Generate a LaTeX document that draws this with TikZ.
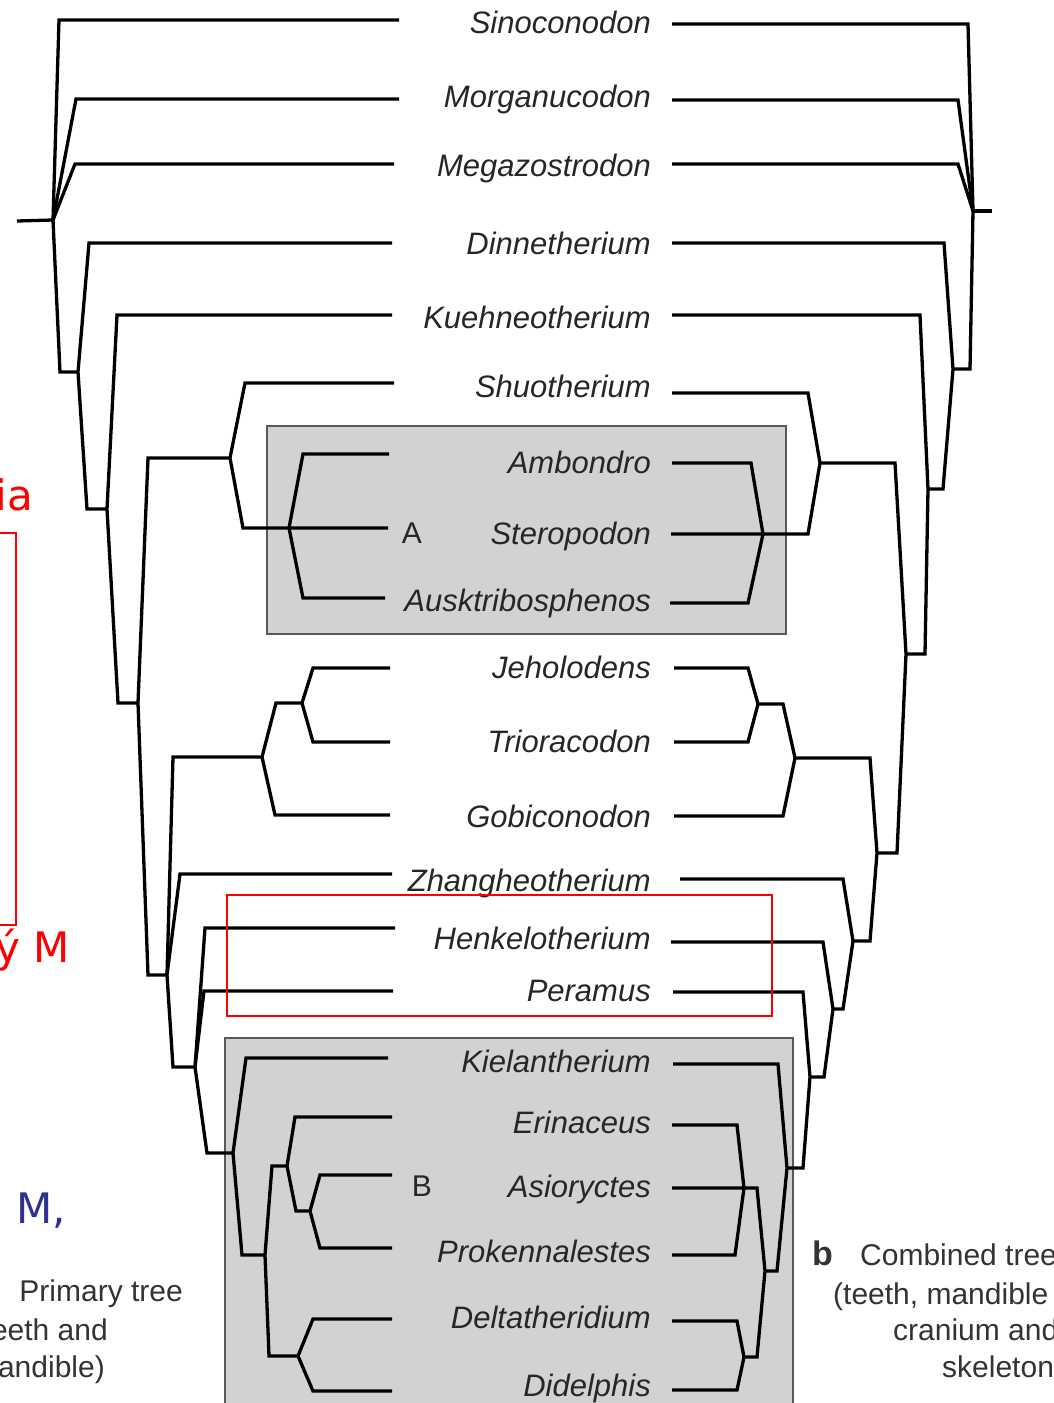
\documentclass[tikz,border=0pt]{standalone}
\usepackage{fontspec}
\setmainfont{Liberation Sans}
\newfontfamily\notefont{DejaVu Sans}
\usetikzlibrary{positioning}
\definecolor{noteblue}{RGB}{46,49,146}

\begin{document}
\begin{tikzpicture}[x=1pt, y=-1pt,
  branch/.style={line width=3.3pt},
  taxon/.style={font=\itshape\fontsize{31}{31}\selectfont, text=black!85, anchor=base east, inner sep=0pt},
  clade/.style={font=\fontsize{30}{30}\selectfont, text=black!85, inner sep=0pt},
  shade/.style={fill=gray!35, draw=black!65, line width=2pt},
  caption/.style={font=\fontsize{30}{30}\selectfont, text=black!80, inner sep=0pt},
  remark/.style={font=\notefont\fontsize{42}{42}\selectfont, inner sep=0pt}]

  \useasboundingbox (0,0) rectangle (1054,1403);

  % shaded clades
  \draw[shade] (267,426) rectangle (786,634);
  \draw[shade] (225,1038) rectangle (793,1420);

  % taxa: name / label y / left y / left end / right y / right start
  \foreach \name/\y/\ly/\lx/\ry/\rx in {
      Sinoconodon/22/20/399/24/672, Morganucodon/96/99/399/100/672,
      Megazostrodon/165/164/394/164/672, Dinnetherium/243/243/392/243/672,
      Kuehneotherium/317/315/392/315/672, Shuotherium/386/383/394/393/672,
      Ambondro/462/454/389/463/672, Steropodon/533/528/388/534/671,
      Ausktribosphenos/600/598/385/603/670, Jeholodens/667/668/390/668/674,
      Trioracodon/741/742/390/742/674, Gobiconodon/816/815/390/816/674,
      Zhangheotherium/880/874/392/879/680, Henkelotherium/938/928/395/942/671,
      Peramus/990/991/393/992/673, Kielantherium/1061/1058/388/1064/673,
      Erinaceus/1122/1117/392/1125/672, Asioryctes/1186/1175/392/1188/672,
      Prokennalestes/1251/1248/392/1255/672, Deltatheridium/1317/1319/392/1321/672,
      Didelphis/1385/1391/392/1390/672} {
    \node[taxon] (\name) at (651,\y+11) {\name};
    \coordinate (\name-l) at (\lx,\ly);
    \coordinate (\name-r) at (\rx,\ry);
  }

  \node[clade] (A) at (412,533) {A};
  \node[clade] (B) at (422,1186) {B};

  % primary tree (left)
  \coordinate (Lstub) at (17,221);
  \coordinate (L0) at (53,220);
  \coordinate (L1) at (78,372);
  \coordinate (L2) at (107,509);
  \coordinate (L3) at (138,703);
  \coordinate (L4) at (230,458);
  \coordinate (LA) at (289,528);
  \coordinate (L5) at (167,975);
  \coordinate (L6) at (262,757);
  \coordinate (L7) at (302,703);
  \coordinate (L8) at (195,1067);
  \coordinate (L9) at (233,1153);
  \coordinate (L10) at (265,1255);
  \coordinate (LB) at (287,1166);
  \coordinate (L11) at (310,1211);
  \coordinate (L12) at (298,1356);

  \draw[branch] (Lstub) -- (L0);
  \draw[branch] (Sinoconodon-l) -- (59,20) -- (L0);
  \draw[branch] (Morganucodon-l) -- (76,99) -- (L0);
  \draw[branch] (Megazostrodon-l) -- (75,164) -- (L0);
  \draw[branch] (L0) -- (60,372) -- (L1);
  \draw[branch] (Dinnetherium-l) -- (89,243) -- (L1) -- (87,509) -- (L2);
  \draw[branch] (Kuehneotherium-l) -- (117,315) -- (L2) -- (118,703) -- (L3);
  \draw[branch] (L4) -- (148,458) -- (L3) -- (148,975) -- (L5);
  \draw[branch] (Shuotherium-l) -- (245,383) -- (L4) -- (243,528) -- (Steropodon-l);
  \draw[branch] (Ambondro-l) -- (303,454) -- (LA) -- (303,598) -- (Ausktribosphenos-l);
  \draw[branch] (L6) -- (173,757) -- (L5) -- (173,1067) -- (L8);
  \draw[branch] (Zhangheotherium-l) -- (180,874) -- (L5);
  \draw[branch] (L7) -- (276,703) -- (L6) -- (275,815) -- (Gobiconodon-l);
  \draw[branch] (Jeholodens-l) -- (313,668) -- (L7) -- (313,742) -- (Trioracodon-l);
  \draw[branch] (Henkelotherium-l) -- (205,928) -- (L8) -- (207,1153) -- (L9);
  \draw[branch] (Peramus-l) -- (204,991) -- (L8);
  \draw[branch] (Kielantherium-l) -- (246,1058) -- (L9) -- (242,1255) -- (L10);
  \draw[branch] (LB) -- (272,1166) -- (L10) -- (269,1356) -- (L12);
  \draw[branch] (Erinaceus-l) -- (295,1117) -- (LB) -- (296,1211) -- (L11);
  \draw[branch] (Asioryctes-l) -- (320,1175) -- (L11) -- (320,1248) -- (Prokennalestes-l);
  \draw[branch] (Deltatheridium-l) -- (313,1319) -- (L12) -- (313,1391) -- (Didelphis-l);

  % combined tree (right)
  \coordinate (R0) at (973,211);
  \coordinate (Rstub) at (992,211);
  \coordinate (R1) at (953,369);
  \coordinate (R2) at (928,489);
  \coordinate (R3) at (906,654);
  \coordinate (R4) at (820,463);
  \coordinate (RA) at (763,534);
  \coordinate (R5) at (877,853);
  \coordinate (R6) at (795,758);
  \coordinate (R7) at (758,704);
  \coordinate (R8) at (853,941);
  \coordinate (R9) at (833,1009);
  \coordinate (R10) at (810,1077);
  \coordinate (R11) at (787,1168);
  \coordinate (R12) at (765,1271);
  \coordinate (RB) at (744,1188);
  \coordinate (R13) at (744,1357);

  \draw[branch] (R0) -- (Rstub);
  \draw[branch] (Sinoconodon-r) -- (968,24) -- (R0);
  \draw[branch] (Morganucodon-r) -- (958,100) -- (R0);
  \draw[branch] (Megazostrodon-r) -- (958,164) -- (R0);
  \draw[branch] (R0) -- (970,369) -- (R1);
  \draw[branch] (Dinnetherium-r) -- (944,243) -- (R1) -- (943,489) -- (R2);
  \draw[branch] (Kuehneotherium-r) -- (920,315) -- (R2) -- (925,654) -- (R3);
  \draw[branch] (R4) -- (895,463) -- (R3) -- (897,853) -- (R5);
  \draw[branch] (Shuotherium-r) -- (808,393) -- (R4) -- (808,534) -- (Steropodon-r);
  \draw[branch] (Ambondro-r) -- (751,463) -- (RA) -- (748,603) -- (Ausktribosphenos-r);
  \draw[branch] (R6) -- (870,758) -- (R5) -- (870,941) -- (R8);
  \draw[branch] (R7) -- (783,704) -- (R6) -- (783,816) -- (Gobiconodon-r);
  \draw[branch] (Jeholodens-r) -- (748,668) -- (R7) -- (748,742) -- (Trioracodon-r);
  \draw[branch] (Zhangheotherium-r) -- (843,879) -- (R8) -- (843,1009) -- (R9);
  \draw[branch] (Henkelotherium-r) -- (823,942) -- (R9) -- (824,1077) -- (R10);
  \draw[branch] (Peramus-r) -- (803,992) -- (R10) -- (803,1168) -- (R11);
  \draw[branch] (Kielantherium-r) -- (778,1064) -- (R11) -- (777,1271) -- (R12);
  \draw[branch] (Asioryctes-r) -- (757,1188) -- (R12) -- (757,1357) -- (R13);
  \draw[branch] (Erinaceus-r) -- (737,1125) -- (RB) -- (735,1255) -- (Prokennalestes-r);
  \draw[branch] (Deltatheridium-r) -- (737,1321) -- (R13) -- (737,1390) -- (Didelphis-r);

  % red marks
  \draw[red, line width=1.5pt] (227,895) rectangle (772,1016);
  \draw[red, line width=1.5pt] (0,533) -- (16,533) -- (16,925) -- (0,925);
  \node[remark, text=red, anchor=base east] (ia) at (33,510) {ia};
  \node[remark, text=red, anchor=base east] (yM) at (70,962) {ý M};
  \node[remark, text=noteblue, anchor=base west] (Mb) at (16,1223) {M,};

  % captions
  \node[caption, anchor=base east] (primary) at (183,1301) {Primary tree};
  \node[caption, anchor=base east] (teethl) at (108,1340) {eeth and};
  \node[caption, anchor=base east] (mandl) at (105,1377) {andible)};
  \node[caption, anchor=base west, font=\bfseries\fontsize{34}{34}\selectfont] (bb) at (812,1265) {b};
  \node[caption, anchor=base west] (combined) at (860,1265) {Combined tree};
  \node[caption, anchor=base west] (teethr) at (833,1304) {(teeth, mandible};
  \node[caption, anchor=base west] (cran) at (893,1340) {cranium and};
  \node[caption, anchor=base west] (skel) at (942,1377) {skeleton};
\end{tikzpicture}
\end{document}
